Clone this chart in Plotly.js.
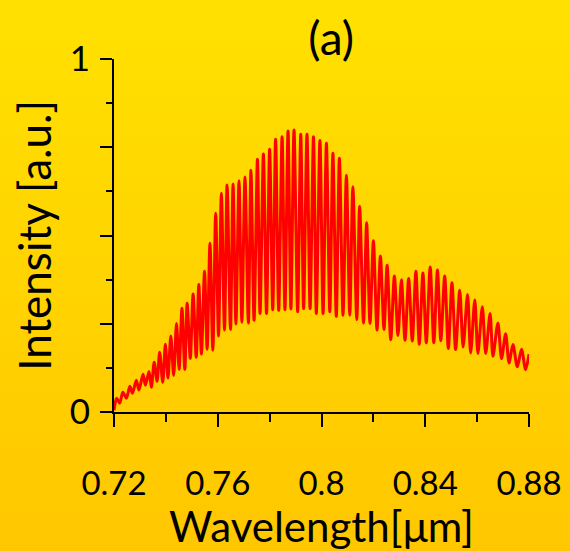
<!DOCTYPE html>
<html>
<head>
<meta charset="utf-8">
<script src="https://cdn.plot.ly/plotly-3.0.1.min.js"></script>
<style>
html,body{margin:0;padding:0;}
body{width:570px;height:551px;background:linear-gradient(to bottom,#FFE100 0%,#FFD400 50%,#FFC700 100%);}
#chart{width:570px;height:551px;}
</style>
</head>
<body>
<div id="chart"></div>
<script>
// Fringe extrema (alternating trough/peak)
const wavelength = [
0.7200,0.7210,0.7222,0.7234,0.7248,0.7261,0.7271,0.7286,0.7296,0.7312,
0.7321,0.7335,0.7344,0.7355,0.7366,0.7376,0.7388,0.7398,0.7408,0.7419,
0.7430,0.7441,0.7451,0.7462,0.7473,0.7482,0.7494,0.7505,0.7517,0.7527,
0.7537,0.7549,0.7559,0.7570,0.7581,0.7592,0.7603,0.7614,0.7626,0.7636,
0.7649,0.7659,0.7670,0.7682,0.7693,0.7705,0.7718,0.7728,0.7740,0.7753,
0.7763,0.7776,0.7788,0.7800,0.7812,0.7823,0.7835,0.7848,0.7859,0.7871,
0.7882,0.7894,0.7908,0.7920,0.7931,0.7944,0.7956,0.7969,0.7980,0.7994,
0.8006,0.8019,0.8032,0.8044,0.8057,0.8069,0.8083,0.8096,0.8109,0.8121,
0.8136,0.8147,0.8162,0.8174,0.8187,0.8200,0.8214,0.8227,0.8241,0.8253,
0.8267,0.8281,0.8295,0.8308,0.8322,0.8336,0.8350,0.8364,0.8377,0.8391,
0.8404,0.8419,0.8433,0.8447,0.8460,0.8475,0.8489,0.8503,0.8517,0.8533,
0.8546,0.8563,0.8575,0.8591,0.8603,0.8620,0.8633,0.8650,0.8661,0.8680,
0.8694,0.8710,0.8723,0.8738,0.8755,0.8771,0.8787,0.8800
];
const intensity = [
0.005,0.039,0.025,0.056,0.039,0.073,0.053,0.090,0.062,0.107,
0.076,0.115,0.070,0.141,0.087,0.169,0.084,0.192,0.096,0.215,
0.104,0.251,0.121,0.294,0.121,0.308,0.152,0.334,0.155,0.361,
0.164,0.399,0.178,0.478,0.175,0.563,0.215,0.620,0.232,0.643,
0.234,0.646,0.249,0.655,0.254,0.666,0.252,0.685,0.260,0.716,
0.279,0.731,0.279,0.744,0.290,0.773,0.288,0.780,0.290,0.796,
0.292,0.799,0.284,0.787,0.293,0.787,0.293,0.780,0.279,0.769,
0.279,0.761,0.284,0.733,0.271,0.719,0.274,0.671,0.274,0.638,
0.262,0.583,0.252,0.536,0.251,0.485,0.232,0.442,0.234,0.416,
0.205,0.385,0.217,0.375,0.203,0.378,0.201,0.399,0.192,0.394,
0.196,0.411,0.196,0.402,0.202,0.385,0.180,0.366,0.177,0.345,
0.184,0.333,0.167,0.317,0.166,0.298,0.166,0.279,0.158,0.252,
0.151,0.222,0.139,0.191,0.128,0.178,0.120,0.164
];
const xTickVals = [0.72,0.76,0.8,0.84,0.88];
const xTickText = ['0.72','0.76','0.8','0.84','0.88'];
const yTickVals = [0,0.25,0.5,0.75,1];
const yTickText = ['0','','','','1'];

const FONT = 'Lato, "Open Sans", sans-serif';

const trace = {
  x: wavelength, y: intensity, type: 'scatter', mode: 'lines',
  line: {color: '#FF0000', width: 3, shape: 'spline', smoothing: 0.8},
  hoverinfo: 'none'
};

const layout = {
  width: 570, height: 551,
  margin: {l: 114, r: 41, t: 59, b: 139, pad: 0},
  paper_bgcolor: 'rgba(0,0,0,0)',
  plot_bgcolor: 'rgba(0,0,0,0)',
  showlegend: false,
  font: {family: FONT, color: '#000'},
  title: {text: '(a)', font: {size: 46, family: FONT, color: '#000'},
          x: 0.581, xref: 'container', xanchor: 'center',
          y: 0.93, yref: 'container', yanchor: 'middle'},
  xaxis: {
    range: [0.72, 0.88], showgrid: false, zeroline: false,
    showline: true, linecolor: '#000', linewidth: 2,
    ticks: 'outside', ticklen: 13, tickwidth: 2, tickcolor: '#000',
    tickvals: xTickVals, ticktext: xTickText,
    tickfont: {size: 33, family: FONT, color: '#000'},
    ticklabelstandoff: 28,
    minor: {tickvals: [0.74,0.78,0.82,0.86], ticks: 'outside', ticklen: 8, tickwidth: 2, tickcolor: '#000'},
    title: {text: 'Wavelength[μm]', font: {size: 42, family: FONT, color: '#000'}, standoff: 6}
  },
  yaxis: {
    range: [0, 1], showgrid: false, zeroline: false,
    showline: true, linecolor: '#000', linewidth: 2,
    ticks: 'outside', ticklen: 12, tickwidth: 2, tickcolor: '#000',
    tickvals: yTickVals, ticktext: yTickText,
    tickfont: {size: 35, family: FONT, color: '#000'},
    ticklabelstandoff: 3,
    minor: {tickvals: [0.125,0.375,0.625,0.875], ticks: 'outside', ticklen: 6, tickwidth: 2, tickcolor: '#000'},
    title: {text: 'Intensity [a.u.]', font: {size: 44, family: FONT, color: '#000'}, standoff: 4}
  }
};

Plotly.newPlot('chart', [trace], layout, {displayModeBar: false, staticPlot: true});
</script>
</body>
</html>
